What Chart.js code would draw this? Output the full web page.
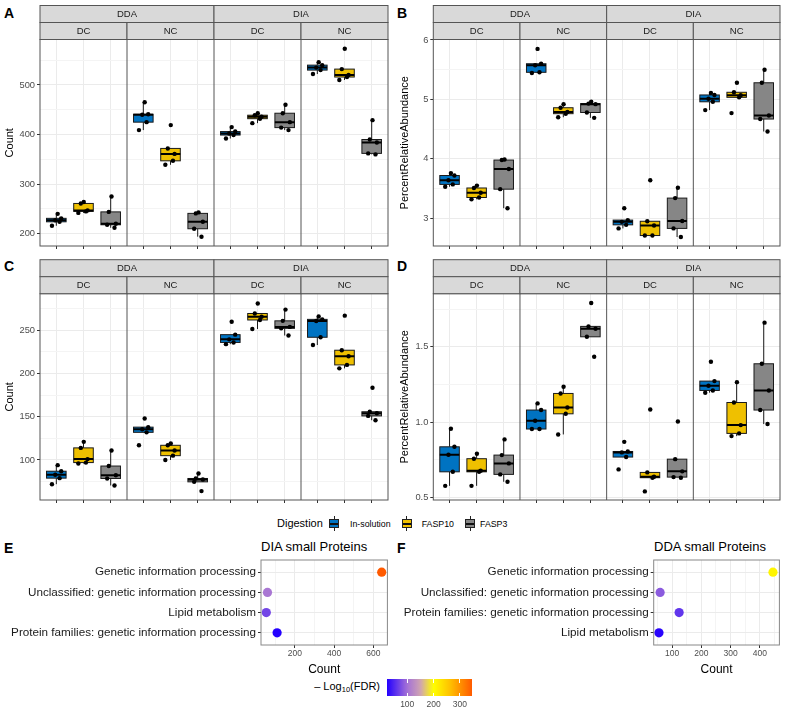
<!DOCTYPE html>
<html>
<head>
<meta charset="utf-8">
<script src="https://cdn.jsdelivr.net/npm/chart.js@4.4.1/dist/chart.umd.min.js"></script>
<style>
  body { margin: 0; background: #fff; width: 787px; height: 716px; position: relative; overflow: hidden;
         font-family: 'Liberation Sans', Arial, sans-serif; }
  canvas { position: absolute; }
  .tag { position: absolute; font-weight: bold; font-size: 14px; line-height: 1; color: #000; }
  .txt { position: absolute; line-height: 1; white-space: nowrap; }
  .keywrap { position: absolute; width: 10px; height: 15px; }
  .keywrap .whisk { position: absolute; left: 4.5px; top: 0; width: 1px; height: 15px; background: #222; }
  .keywrap .kbox { position: absolute; left: 0; top: 3px; width: 10px; height: 9px; border: 1px solid #222; box-sizing: border-box; }
  .keywrap .kmed { position: absolute; left: 0; top: 3px; width: 8px; height: 2px; background: #111; }
</style>
</head>
<body>

<div class="tag" style="left:4px;top:6px">A</div>
<div class="tag" style="left:397px;top:6px">B</div>
<div class="tag" style="left:4px;top:259px">C</div>
<div class="tag" style="left:397px;top:259px">D</div>
<div class="tag" style="left:4px;top:541px">E</div>
<div class="tag" style="left:397px;top:541px">F</div>

<canvas id="chartA" width="392" height="256" style="left:0;top:0"></canvas>
<canvas id="chartB" width="392" height="256" style="left:392px;top:0"></canvas>
<canvas id="chartC" width="392" height="255" style="left:0;top:255px"></canvas>
<canvas id="chartD" width="392" height="255" style="left:392px;top:255px"></canvas>

<div id="legend"></div>

<div class="txt" style="left:261px;top:540px;font-size:13px">DIA small Proteins</div>
<div class="txt" style="left:654px;top:540px;font-size:13px">DDA small Proteins</div>
<canvas id="chartE" width="392" height="140" style="left:0;top:540px"></canvas>
<canvas id="chartF" width="392" height="140" style="left:392px;top:540px"></canvas>

<div id="colorbar"></div>

<script>
// facets and groups
const ACQUISITION = ['DDA', 'DIA'];
const CONTROL = ['DC', 'NC'];
const DIGESTION = ['In-solution', 'FASP10', 'FASP3'];

// 12 groups per panel: DDA-DC, DDA-NC, DIA-DC, DIA-NC, each x In-solution, FASP10, FASP3
const countA = [
    [216, 224, 227, 231, 240], [242, 245, 247, 261, 264], [212, 218, 220, 244, 275],
    [409, 425, 440, 441, 465], [339, 347, 361, 372, 419], [194, 210, 224, 241, 243],
    [392, 399, 402, 406, 415], [423, 432, 436, 439, 443], [409, 414, 425, 443, 460],
    [522, 530, 535, 540, 546], [510, 516, 520, 532, 573], [360, 362, 384, 390, 429]
];
const abundanceB = [
    [3.53, 3.57, 3.64, 3.72, 3.76], [3.32, 3.35, 3.43, 3.51, 3.55], [3.17, 3.49, 3.83, 3.98, 3.99],
    [5.445, 5.456, 5.574, 5.6, 5.85], [4.70, 4.76, 4.79, 4.86, 4.92], [4.69, 4.78, 4.92, 4.93, 4.96],
    [2.83, 2.89, 2.94, 2.97, 3.17], [2.71, 2.71, 2.88, 2.95, 3.64], [2.685, 2.83, 2.955, 3.34, 3.515],
    [4.82, 4.96, 5.01, 5.075, 5.11], [4.77, 5.035, 5.07, 5.12, 5.28], [4.46, 4.67, 4.73, 5.28, 5.5]
];
const countC = [
    [72, 79, 83, 87, 94], [96, 97, 101, 114, 121], [70.5, 78.6, 82.4, 93, 111],
    [117, 132, 135.5, 138, 148], [100, 105, 111, 117, 119], [64, 74.7, 77.4, 78.6, 84.4],
    [234, 236, 239.6, 245, 260], [251.5, 262, 265.8, 269.5, 281], [244, 252.3, 254, 261, 274],
    [233, 242, 260.8, 262.7, 266], [206, 210, 220, 227, 267], [146, 151, 154, 155.8, 183.6]
];
const abundanceD = [
    [0.577, 0.67, 0.783, 0.836, 0.956], [0.577, 0.67, 0.677, 0.757, 0.79], [0.604, 0.653, 0.726, 0.781, 0.885],
    [0.954, 0.954, 1.009, 1.08, 1.124], [0.918, 1.055, 1.097, 1.19, 1.235], [1.434, 1.566, 1.619, 1.635, 1.79],
    [0.686, 0.768, 0.799, 0.805, 0.869], [0.54, 0.631, 0.637, 0.666, 1.084], [0.631, 0.635, 0.673, 0.754, 1.004],
    [1.195, 1.21, 1.241, 1.272, 1.4], [0.907, 0.925, 0.98, 1.13, 1.265], [0.987, 1.08, 1.21, 1.387, 1.66]
];

// dot plots (top row first)
const categoriesE = ['Genetic information processing', 'Unclassified: genetic information processing',
                     'Lipid metabolism', 'Protein families: genetic information processing'];
const countE = [642, 60, 54, 109];
const fdrE = [347, 105, 70, 22];

const categoriesF = ['Genetic information processing', 'Unclassified: genetic information processing',
                     'Protein families: genetic information processing', 'Lipid metabolism'];
const countF = [445, 59, 124, 55];
const fdrF = [210, 84, 59, 25];

const colorbarTicks = [100, 200, 300];

const BOX_COLORS = ['#0073C2', '#EFC000', '#868686'];
const JITTER = [-0.16, 0.12, -0.04, 0.18, 0.05, -0.19, 0.09, 0.15, -0.1, 0.01, 0.14, -0.13, 0.19, -0.07, 0.03];
const FONT = "'Liberation Sans', Arial, sans-serif";
Chart.defaults.font.family = FONT;

// colour ramp for -log10(FDR)
const RAMP = [[22, '#2400ff'], [100, '#a572d6'], [150, '#cfa3b3'], [200, '#ffff00'], [265, '#ffbf00'], [347, '#ff5a00']];
function hexToRgb(h) { return [1, 3, 5].map(i => parseInt(h.substr(i, 2), 16)); }
function rampColor(v) {
    if (v <= RAMP[0][0]) return RAMP[0][1];
    for (let i = 1; i < RAMP.length; i++) {
        if (v <= RAMP[i][0]) {
            const t = (v - RAMP[i - 1][0]) / (RAMP[i][0] - RAMP[i - 1][0]);
            const a = hexToRgb(RAMP[i - 1][1]), b = hexToRgb(RAMP[i][1]);
            const c = a.map((x, k) => Math.round(x + (b[k] - x) * t));
            return 'rgb(' + c.join(',') + ')';
        }
    }
    return RAMP[RAMP.length - 1][1];
}

function groupCenter(g) {
    return 3.2 * Math.floor(g / 3) + 0.6 + (g % 3);
}

function boxStats(values) {
    const s = values.slice().sort((a, b) => a - b);
    const q = p => {
        const h = (s.length - 1) * p, lo = Math.floor(h), hi = Math.ceil(h);
        return s[lo] + (s[hi] - s[lo]) * (h - lo);
    };
    const q1 = q(0.25), med = q(0.5), q3 = q(0.75), iqr = q3 - q1;
    const inside = s.filter(v => v >= q1 - 1.5 * iqr - 1e-9 && v <= q3 + 1.5 * iqr + 1e-9);
    return { q1, med, q3, lo: Math.min(...inside), hi: Math.max(...inside) };
}

function stepTicks(min, max, step) {
    const out = [];
    for (let k = Math.ceil(min / step - 1e-9); k * step <= max + 1e-9; k++) {
        out.push(Math.round(k * step * 1e6) / 1e6);
    }
    return out;
}
function isMajor(v, major) {
    return Math.abs(v / major - Math.round(v / major)) < 1e-6;
}

// boxes, whiskers and medians under the points
const boxPlugin = {
    id: 'boxes',
    beforeDatasetsDraw(chart) {
        const groups = chart.options.plugins.boxes.groups;
        const xs = chart.scales.x, ys = chart.scales.y, ctx = chart.ctx;
        const area = chart.chartArea;
        ctx.save();
        ctx.beginPath();
        ctx.rect(area.left, area.top, area.right - area.left, area.bottom - area.top);
        ctx.clip();
        groups.forEach((vals, g) => {
            const st = boxStats(vals);
            const c = groupCenter(g);
            const cx = xs.getPixelForValue(c);
            const x0 = xs.getPixelForValue(c - 0.36), x1 = xs.getPixelForValue(c + 0.36);
            ctx.strokeStyle = '#1a1a1a';
            ctx.lineWidth = 1;
            ctx.beginPath();
            ctx.moveTo(cx, ys.getPixelForValue(st.q3));
            ctx.lineTo(cx, ys.getPixelForValue(st.hi));
            ctx.moveTo(cx, ys.getPixelForValue(st.q1));
            ctx.lineTo(cx, ys.getPixelForValue(st.lo));
            ctx.stroke();
            const yt = ys.getPixelForValue(st.q3), yb = ys.getPixelForValue(st.q1);
            ctx.fillStyle = BOX_COLORS[g % 3];
            ctx.fillRect(x0, yt, x1 - x0, yb - yt);
            ctx.strokeRect(x0, yt, x1 - x0, yb - yt);
            ctx.lineWidth = 2;
            ctx.strokeStyle = '#000';
            ctx.beginPath();
            const ym = ys.getPixelForValue(st.med);
            ctx.moveTo(x0, ym);
            ctx.lineTo(x1, ym);
            ctx.stroke();
        });
        ctx.restore();
    }
};

// panel borders and the two rows of strips
const facetPlugin = {
    id: 'facets',
    afterDraw(chart) {
        const xs = chart.scales.x, ctx = chart.ctx;
        const { top, bottom, left, right } = chart.chartArea;
        ctx.save();
        ctx.strokeStyle = '#555';
        ctx.lineWidth = 1;
        ctx.strokeRect(left, top, right - left, bottom - top);
        ctx.beginPath();
        [3.2, 6.4, 9.6].forEach(v => {
            const x = xs.getPixelForValue(v);
            ctx.moveTo(x, top);
            ctx.lineTo(x, bottom);
        });
        ctx.stroke();

        ctx.font = '9.5px ' + FONT;
        ctx.textAlign = 'center';
        ctx.textBaseline = 'middle';
        const H = 17;
        ACQUISITION.forEach((acq, a) => {
            const x0 = xs.getPixelForValue(6.4 * a), x1 = xs.getPixelForValue(6.4 * a + 6.4);
            ctx.fillStyle = '#D9D9D9';
            ctx.fillRect(x0, top - 2 * H, x1 - x0, H);
            ctx.strokeRect(x0, top - 2 * H, x1 - x0, H);
            ctx.fillStyle = '#1a1a1a';
            ctx.fillText(acq, (x0 + x1) / 2, top - 1.5 * H + 0.5);
            CONTROL.forEach((ctl, c) => {
                const f = a * 2 + c;
                const u0 = xs.getPixelForValue(3.2 * f), u1 = xs.getPixelForValue(3.2 * f + 3.2);
                ctx.fillStyle = '#D9D9D9';
                ctx.fillRect(u0, top - H, u1 - u0, H);
                ctx.strokeRect(u0, top - H, u1 - u0, H);
                ctx.fillStyle = '#1a1a1a';
                ctx.fillText(ctl, (u0 + u1) / 2, top - 0.5 * H + 0.5);
            });
        });
        ctx.restore();
    }
};

const borderPlugin = {
    id: 'panelBorder',
    afterDraw(chart) {
        const { top, bottom, left, right } = chart.chartArea, ctx = chart.ctx;
        ctx.save();
        ctx.strokeStyle = '#888';
        ctx.lineWidth = 1;
        ctx.strokeRect(left, top, right - left, bottom - top);
        ctx.restore();
    }
};

function makeBoxPanel(id, groups, o) {
    const points = [];
    groups.forEach((vals, g) => {
        vals.forEach((v, i) => points.push({ x: groupCenter(g) + JITTER[(g * 5 + i) % JITTER.length], y: v }));
    });
    const centers = groups.map((_, g) => groupCenter(g));
    return new Chart(document.getElementById(id), {
        type: 'scatter',
        data: {
            datasets: [{
                data: points,
                pointRadius: 2.2,
                pointBackgroundColor: '#000',
                pointBorderWidth: 0
            }]
        },
        plugins: [boxPlugin, facetPlugin],
        options: {
            responsive: false,
            animation: false,
            layout: { padding: { top: o.padTop, right: o.padRight, left: 0, bottom: 0 } },
            plugins: {
                legend: { display: false },
                tooltip: { enabled: false },
                boxes: { groups: groups }
            },
            scales: {
                x: {
                    type: 'linear',
                    min: 0,
                    max: 12.8,
                    afterBuildTicks: s => { s.ticks = centers.map(v => ({ value: v })); },
                    afterFit: s => { s.height = 10; },
                    ticks: { display: false },
                    grid: { color: '#EBEBEB', tickColor: '#333', tickLength: 3 },
                    border: { display: false }
                },
                y: {
                    min: o.min,
                    max: o.max,
                    afterBuildTicks: s => { s.ticks = stepTicks(o.min, o.max, o.minor).map(v => ({ value: v })); },
                    afterFit: s => { s.width = o.axisWidth; },
                    ticks: {
                        color: '#4D4D4D',
                        font: { size: 9.3 },
                        padding: 2,
                        callback: v => isMajor(v, o.major) ? v.toFixed(o.decimals) : ''
                    },
                    grid: {
                        color: c => isMajor(c.tick.value, o.major) ? '#EBEBEB' : '#F4F4F4',
                        tickColor: c => isMajor(c.tick.value, o.major) ? '#333' : 'rgba(0,0,0,0)',
                        tickLength: 3
                    },
                    border: { display: false },
                    title: {
                        display: true,
                        text: o.title,
                        color: '#000',
                        font: { size: 11 },
                        padding: { top: o.titlePad, bottom: 0 }
                    }
                }
            }
        }
    });
}

makeBoxPanel('chartA', countA, { min: 175.2, max: 591.7, major: 100, minor: 50, decimals: 0,
    title: 'Count', axisWidth: 40, titlePad: 3, padTop: 39.5, padRight: 4 });
makeBoxPanel('chartB', abundanceB, { min: 2.534, max: 6.008, major: 1, minor: 0.5, decimals: 0,
    title: 'PercentRelativeAbundance', axisWidth: 41.3, titlePad: 6.4, padTop: 39.5, padRight: 3 });
makeBoxPanel('chartC', countC, { min: 53.7, max: 292.4, major: 50, minor: 25, decimals: 0,
    title: 'Count', axisWidth: 40, titlePad: 3, padTop: 38.7, padRight: 4 });
makeBoxPanel('chartD', abundanceD, { min: 0.483, max: 1.852, major: 0.5, minor: 0.25, decimals: 1,
    title: 'PercentRelativeAbundance', axisWidth: 41.3, titlePad: 6.4, padTop: 38.7, padRight: 3 });

function makeDotPanel(id, cats, counts, fdr, o) {
    return new Chart(document.getElementById(id), {
        type: 'scatter',
        data: {
            datasets: [{
                data: counts.map((c, i) => ({ x: c, y: i + 1 })),
                pointRadius: 4.6,
                pointBackgroundColor: fdr.map(rampColor),
                pointBorderWidth: 0
            }]
        },
        plugins: [borderPlugin],
        options: {
            responsive: false,
            animation: false,
            layout: { padding: { top: 20, right: o.padRight, left: 0, bottom: 0 } },
            plugins: { legend: { display: false }, tooltip: { enabled: false } },
            scales: {
                x: {
                    min: o.min,
                    max: o.max,
                    afterBuildTicks: s => { s.ticks = stepTicks(o.min, o.max, o.minor).map(v => ({ value: v })); },
                    afterFit: s => { s.height = 35; },
                    ticks: {
                        color: '#4D4D4D',
                        font: { size: 8.5 },
                        padding: 1,
                        maxRotation: 0,
                        autoSkip: false,
                        callback: v => isMajor(v, o.major) ? String(v) : ''
                    },
                    grid: {
                        color: c => isMajor(c.tick.value, o.major) ? '#EBEBEB' : '#F4F4F4',
                        tickColor: c => isMajor(c.tick.value, o.major) ? '#333' : 'rgba(0,0,0,0)',
                        tickLength: 3
                    },
                    border: { display: false },
                    title: {
                        display: true,
                        text: 'Count',
                        color: '#000',
                        font: { size: 12 },
                        padding: { top: 0, bottom: 3 }
                    }
                },
                y: {
                    reverse: true,
                    min: 0.4,
                    max: 4.6,
                    afterBuildTicks: s => { s.ticks = [1, 2, 3, 4].map(v => ({ value: v })); },
                    afterFit: s => { s.width = o.axisWidth; },
                    ticks: {
                        color: '#1a1a1a',
                        font: { size: 11.7 },
                        padding: 2,
                        autoSkip: false,
                        callback: v => cats[v - 1]
                    },
                    grid: { color: '#EBEBEB', tickColor: '#333', tickLength: 3 },
                    border: { display: false }
                }
            }
        }
    });
}

makeDotPanel('chartE', categoriesE, countE, fdrE, { min: 27, max: 671, major: 200, minor: 100, axisWidth: 261, padRight: 4 });
makeDotPanel('chartF', categoriesF, countF, fdrF, { min: 37, max: 467, major: 100, minor: 50, axisWidth: 261.7, padRight: 2.3 });

// shared legend for the box plots
(function () {
    const lg = document.getElementById('legend');
    let html = '<div class="txt" style="left:277px;top:518px;font-size:11px">Digestion</div>';
    const keyX = [329.3, 401.7, 465.3];
    const textX = [350, 421.7, 480];
    DIGESTION.forEach((name, i) => {
        html += '<div class="keywrap" style="left:' + keyX[i] + 'px;top:516px">' +
            '<div class="whisk"></div>' +
            '<div class="kbox" style="background:' + BOX_COLORS[i] + '"><div class="kmed"></div></div></div>';
        html += '<div class="txt" style="left:' + textX[i] + 'px;top:519.5px;font-size:8.8px">' + name + '</div>';
    });
    lg.innerHTML = html;
})();

// colour bar for -log10(FDR)
(function () {
    const all = fdrE.concat(fdrF);
    const lo = Math.min(...all), hi = Math.max(...all);
    const left = 386.7, width = 85.6, top = 679.3, height = 16.7;
    const stops = [];
    for (let k = 0; k <= 20; k++) {
        const v = lo + (hi - lo) * k / 20;
        stops.push(rampColor(v) + ' ' + (k * 5) + '%');
    }
    let html = '<div class="txt" style="right:' + (787 - 380) + 'px;top:681px;font-size:11px">' +
        '\u2013 Log<sub style="font-size:7.5px;vertical-align:-2px">10</sub>(FDR)</div>';
    html += '<div style="position:absolute;left:' + left + 'px;top:' + top + 'px;width:' + width +
        'px;height:' + height + 'px;background:linear-gradient(to right,' + stops.join(',') + ')"></div>';
    colorbarTicks.forEach(t => {
        const x = left + (t - lo) / (hi - lo) * width;
        html += '<div style="position:absolute;left:' + (x - 0.5) + 'px;top:' + top + 'px;width:1px;height:3.3px;background:#fff"></div>';
        html += '<div style="position:absolute;left:' + (x - 0.5) + 'px;top:' + (top + height - 3.3) + 'px;width:1px;height:3.3px;background:#fff"></div>';
        html += '<div class="txt" style="left:' + (x - 15) + 'px;width:30px;text-align:center;top:700px;font-size:8.5px;color:#4D4D4D">' + t + '</div>';
    });
    document.getElementById('colorbar').innerHTML = html;
})();
</script>
</body>
</html>
